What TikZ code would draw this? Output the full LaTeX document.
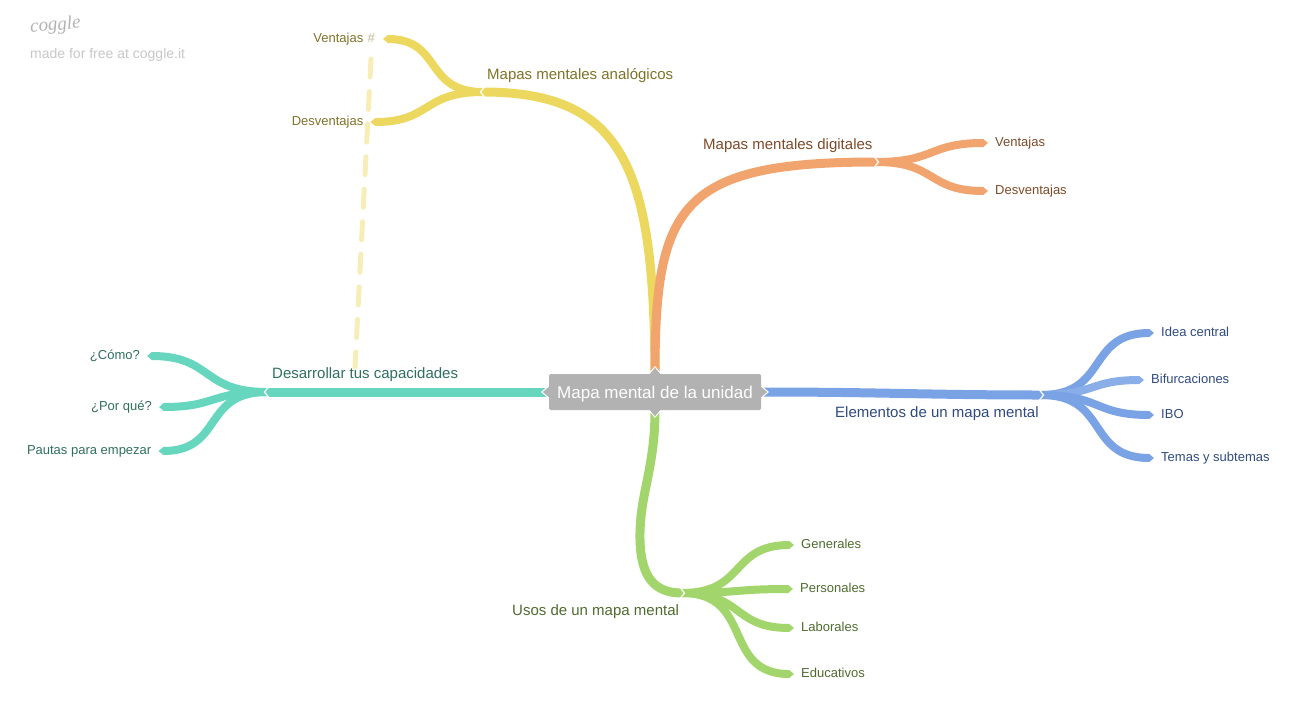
\documentclass[tikz,border=0pt]{standalone}
\usepackage{fontspec}
\setmainfont{Liberation Sans}
\newfontfamily\logofont{Liberation Serif}
\usetikzlibrary{arrows.meta,backgrounds}
\definecolor{cyel}{HTML}{ECD85E}
\definecolor{cora}{HTML}{F1A46E}
\definecolor{cblu}{HTML}{7AA3E5}
\definecolor{cbli}{HTML}{8AAEE8}
\definecolor{cgre}{HTML}{A2D66C}
\definecolor{ctea}{HTML}{66D6BE}
\definecolor{tyel}{HTML}{7F7228}
\definecolor{tora}{HTML}{7D4A28}
\definecolor{tblu}{HTML}{2F4A80}
\definecolor{tgre}{HTML}{4F6B2E}
\definecolor{ttea}{HTML}{2F6F5F}
\tikzset{
  hub/.style={fill=black!30, rounded corners=1.5pt, text=white, font=\fontsize{17}{20}\selectfont,
    minimum width=212pt, minimum height=36pt, inner sep=0pt, text height=14pt, text depth=2pt},
  topic/.style={anchor=west, inner sep=0pt, font=\fontsize{15}{18}\selectfont},
  kidr/.style={anchor=west, inner xsep=7pt, inner ysep=0pt, text height=10pt, text depth=4pt, font=\fontsize{13}{16}\selectfont},
  kidl/.style={kidr, anchor=east},
  trunk/.style={line width=9pt},
  limb/.style={line width=8pt, -{Triangle[length=5pt,width=8pt]}},
  notch/.style={white, line width=1.2pt, line join=miter},
  tab/.style={fill=black!30, draw=white, line width=1pt},
}
\begin{document}
\begin{tikzpicture}[x=1pt, y=-1pt]
  \useasboundingbox (0,0) rectangle (1300,715);
  \node[hub] (core) at (655,392) {Mapa mental de la unidad};
  \coordinate (jana) at (483,92);
  \coordinate (jdig) at (876,162);
  \coordinate (jele) at (1041,395);
  \coordinate (juso) at (682,593);
  \coordinate (jdes) at (267,392);
  % topics
  \node[topic, text=tyel] (ana) at (487,76) {Mapas mentales analógicos};
  \node[topic, text=tora] (dig) at (703,146) {Mapas mentales digitales};
  \node[topic, text=tblu] (ele) at (835,414) {Elementos de un mapa mental};
  \node[topic, text=tgre] (uso) at (512,612) {Usos de un mapa mental};
  \node[topic, text=ttea] (des) at (272,375) {Desarrollar tus capacidades};
  % leaves
  \node[kidl, text=tyel, inner xsep=0pt] (anav) at (363.5,39) {Ventajas};
  \node[kidl, text=tyel!50, inner xsep=8pt] (anam) at (383,39) {\#};
  \node[kidl, text=tyel] (anad) at (370.5,122) {Desventajas};
  \node[kidr, text=tora] (digv) at (988,143) {Ventajas};
  \node[kidr, text=tora] (digd) at (988,191) {Desventajas};
  \node[kidr, text=tblu] (eleA) at (1154,333) {Idea central};
  \node[kidr, text=tblu] (eleB) at (1144,380) {Bifurcaciones};
  \node[kidr, text=tblu] (eleC) at (1154,415) {IBO};
  \node[kidr, text=tblu] (eleD) at (1154,458) {Temas y subtemas};
  \node[kidr, text=tgre] (usoA) at (794,545) {Generales};
  \node[kidr, text=tgre] (usoB) at (793,589) {Personales};
  \node[kidr, text=tgre] (usoC) at (794,628) {Laborales};
  \node[kidr, text=tgre] (usoD) at (794,674) {Educativos};
  \node[kidl, text=ttea] (desA) at (147,356) {¿Cómo?};
  \node[kidl, text=ttea] (desB) at (159,407) {¿Por qué?};
  \node[kidl, text=ttea] (desC) at (158.5,451) {Pautas para empezar};
  % logo
  \node[anchor=west, inner sep=0pt, text=black!30, rotate=5, font=\logofont\itshape\fontsize{19}{20}\selectfont] (logo) at (30,28) {coggle};
  \node[anchor=west, inner sep=0pt, text=black!22, font=\fontsize{14}{16}\selectfont] (free) at (30,55) {made for free at coggle.it};
  % link
  \coordinate (lnkA) at (371,59);
  \coordinate (lnkB) at (355,367);
  \begin{scope}[on background layer]
    \draw[cyel!45, line width=5pt, line cap=round, dash pattern=on 18pt off 14.6pt] (lnkA) -- (lnkB);
    % trunks
    \draw[trunk, cyel] (core.north) .. controls (654,170) and (625,92) .. (jana);
    \draw[trunk, cora] (core.north) .. controls (655,205) and (680,162) .. (jdig);
    \draw[trunk, cblu] (core.east) .. controls (880,392) and (930,395) .. (jele);
    \draw[trunk, cgre] (core.south) .. controls (655,470) and (639,495) .. (640,540) .. controls (641,578) and (655,593) .. (juso);
    \draw[trunk, ctea] (core.west) -- (jdes);
    % limbs
    \foreach \a/\b/\c in {jdig/digv/cora,jdig/digd/cora,jele/eleA/cblu,jele/eleB/cbli,jele/eleC/cblu,jele/eleD/cblu,juso/usoA/cgre,juso/usoB/cgre,juso/usoC/cgre,juso/usoD/cgre}
      \draw[limb, \c] (\a) to[out=0, in=180, looseness=1.35] (\b.west);
    \foreach \a/\b/\c in {jana/anam/cyel,jana/anad/cyel,jdes/desA/ctea,jdes/desB/ctea,jdes/desC/ctea}
      \draw[limb, \c] (\a) to[out=180, in=0, looseness=1.35] (\b.east);
    % notches
    \foreach \a/\r in {jana/180,jdig/0,jele/0,juso/0,jdes/180}
      \draw[notch, shift={(\a)}, rotate=\r] (-1.5,-5) -- (2.5,0) -- (-1.5,5);
    \foreach \a/\r in {core.north/90,core.south/-90,core.east/0,core.west/180}
      \draw[tab, shift={(\a)}, rotate=\r] (0,-6) -- (7,0) -- (0,6);
  \end{scope}
\end{tikzpicture}
\end{document}
